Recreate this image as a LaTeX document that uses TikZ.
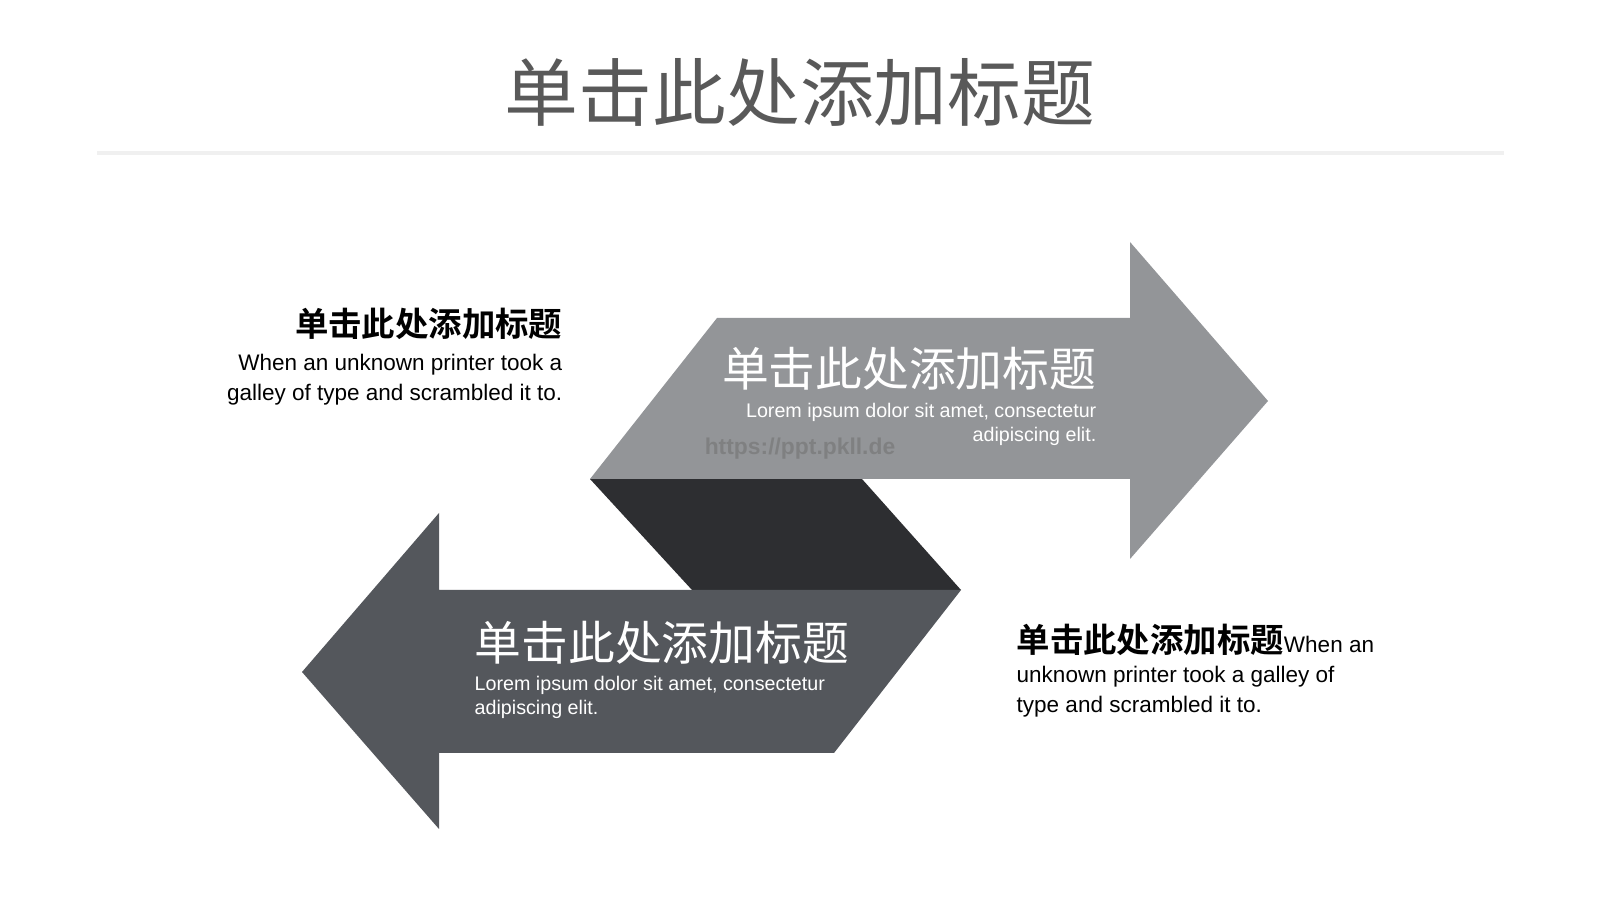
\documentclass[tikz,border=0pt]{standalone}
\usepackage{fontspec}
\setmainfont{Liberation Sans}
\newfontfamily\cjk{Noto Sans CJK SC}[BoldFont=Noto Sans CJK SC Bold]
\definecolor{lightarrow}{HTML}{939598}
\definecolor{darkarrow}{HTML}{54575C}
\definecolor{band}{HTML}{2D2E31}
\definecolor{titlegray}{HTML}{595959}
\tikzset{
  head/.style={font=\cjk\fontsize{13.3}{16}\selectfont, text=white, inner sep=0},
  body/.style={font=\fontsize{5.6}{6.8}\selectfont, text=white, inner sep=0},
  side/.style={font=\fontsize{6.4}{8.6}\selectfont, inner sep=0},
}
\begin{document}
\begin{tikzpicture}[x=0.01cm,y=0.01cm]
\useasboundingbox (0,0) rectangle (1600,900);
\fill[white] (0,0) rectangle (1600,900);

% title and rule
\node[font=\cjk\fontsize{21}{24}\selectfont, text=titlegray, inner sep=0] (title) at (800,808) {单击此处添加标题};
\draw[line width=1.1pt, color=black!6] (97,747) -- (1504,747);

% arrows
\fill[band] (590,421) -- (862,421) -- (961,310) -- (692,310) -- cycle;
\fill[lightarrow] (590,421) -- (717,582) -- (1130,582) -- (1130,658) -- (1268,499) -- (1130,341) -- (1130,421) -- cycle;
\fill[darkarrow] (439,387) -- (302,228) -- (439,71) -- (439,147) -- (834,147) -- (961,310) -- (439,310) -- cycle;

% watermark
\node[font=\bfseries\fontsize{6.5}{8}\selectfont, text=black!55, opacity=0.6, inner sep=0] (mark) at (800,451) {https://ppt.pkll.de};

% upper arrow text
\node[head, anchor=east] (uphead) at (1097,531) {单击此处添加标题};
\node[body, anchor=north east, align=right] (upbody) at (1097,497) {Lorem ipsum dolor sit amet, consectetur\\adipiscing elit.};

% lower arrow text
\node[head, anchor=west] (lowhead) at (474,257) {单击此处添加标题};
\node[body, anchor=north west, align=left] (lowbody) at (474,224) {Lorem ipsum dolor sit amet, consectetur\\adipiscing elit.};

% side texts
\node[font=\cjk\bfseries\fontsize{9.5}{11}\selectfont, anchor=east, inner sep=0] (lefthead) at (563,576) {单击此处添加标题};
\node[side, anchor=north east, align=right] (leftbody) at (563,547) {When an unknown printer took a\\galley of type and scrambled it to.};
\node[side, anchor=north west, align=left] (rightbody) at (1016,277) {{\cjk\bfseries\fontsize{9.5}{11}\selectfont 单击此处添加标题}When an\\unknown printer took a galley of\\type and scrambled it to.};
\end{tikzpicture}
\end{document}
